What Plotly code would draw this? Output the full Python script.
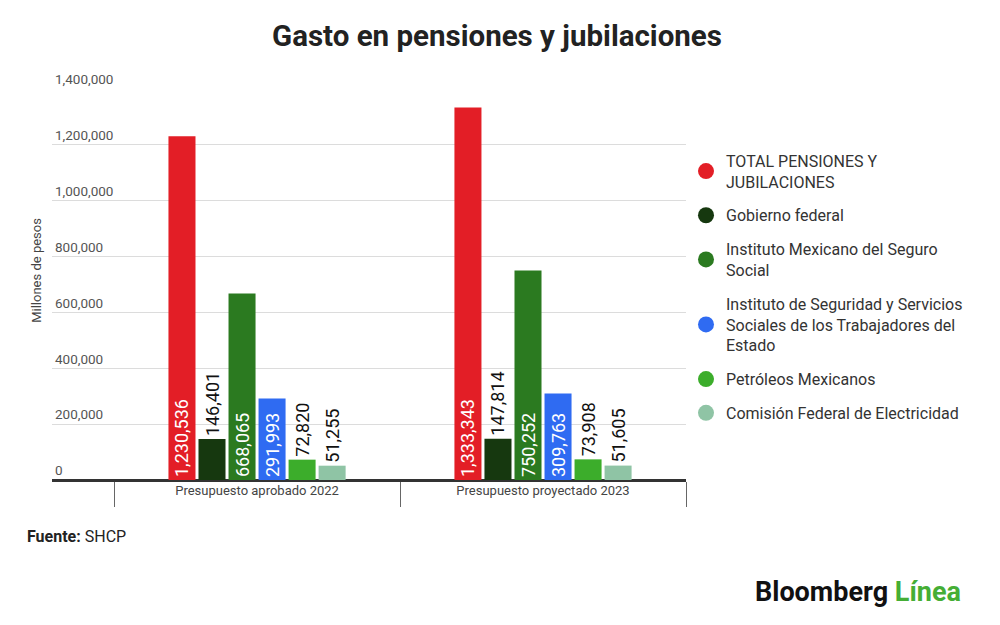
import plotly.graph_objects as go

categorias = ["Presupuesto aprobado 2022", "Presupuesto proyectado 2023"]

series = [
    "TOTAL PENSIONES Y<br>JUBILACIONES",
    "Gobierno federal",
    "Instituto Mexicano del Seguro<br>Social",
    "Instituto de Seguridad y Servicios<br>Sociales de los Trabajadores del<br>Estado",
    "Petróleos Mexicanos",
    "Comisión Federal de Electricidad",
]

total = [1230536, 1333343]
gobierno = [146401, 147814]
imss = [668065, 750252]
issste = [291993, 309763]
pemex = [72820, 73908]
cfe = [51255, 51605]

valores = [total, gobierno, imss, issste, pemex, cfe]
colores = ["#E31E26", "#16380F", "#2B7A20", "#2F6BF2", "#3CAD2B", "#8FC4A5"]
posiciones = ["inside", "outside", "inside", "inside", "outside", "outside"]

fig = go.Figure()

for nombre, vals, color, pos in zip(series, valores, colores, posiciones):
    fig.add_trace(go.Bar(
        x=categorias, y=vals, name=nombre,
        marker=dict(color=color, line=dict(width=0)),
        texttemplate="%{y:,}",
        textposition=pos,
        textangle=-90,
        insidetextanchor="start",
        constraintext="none",
        insidetextfont=dict(color="white", size=18, family="Roboto"),
        outsidetextfont=dict(color="#111", size=18, family="Roboto"),
        cliponaxis=False,
        showlegend=False,
    ))

# legend entries with round markers
for i, (nombre, color) in enumerate(zip(series, colores)):
    fig.add_trace(go.Scatter(
        x=[None], y=[None], mode="markers", name=nombre, legendgroup=f"g{i}",
        marker=dict(color=color, size=17, symbol="circle"),
    ))

# page body has an 8px margin, so the figure is 8px smaller than the window
W, H = 992, 617
fig.update_layout(
    width=W, height=H,
    margin=dict(l=44, r=314, t=81, b=145),
    paper_bgcolor="white", plot_bgcolor="white",
    font=dict(family="Roboto", color="#333"),
    barmode="group", bargap=0.37, bargroupgap=0.1,
    title=dict(text="<b>Gasto en pensiones y jubilaciones</b>",
               x=489 / W, xanchor="center", y=1 - 28 / H, yanchor="middle",
               font=dict(size=29.5, color="#222")),
    legend=dict(x=1.0, xanchor="left", y=0.86, yanchor="top",
                font=dict(size=16, color="#333"), tracegroupgap=10,
                itemclick=False),
)

fig.update_yaxes(
    range=[0, 1400000], dtick=200000, tickformat=",",
    ticklabelposition="inside top", ticklabeloverflow="allow",
    tickfont=dict(size=13.5, color="#555"),
    showgrid=True, gridcolor="#dcdcdc", gridwidth=1,
    zeroline=True, zerolinecolor="#333", zerolinewidth=2,
    showline=False,
)

fig.update_xaxes(
    range=[-0.717, 1.5],
    tickson="boundaries", ticks="outside", ticklen=25, tickcolor="#666", tickwidth=1,
    ticklabelstandoff=-3,
    tickfont=dict(size=13, color="#444"),
    showline=True, linecolor="#333", linewidth=2,
    showgrid=False,
)

fig.add_annotation(text="Millones de pesos", textangle=-90,
                   xref="paper", yref="paper", x=(37 - 52) / 634, y=0.535,
                   xanchor="center", yanchor="middle", showarrow=False,
                   font=dict(size=13, color="#444"))

fig.add_annotation(text="<b>Fuente:</b> SHCP",
                   xref="paper", yref="paper", x=(25 - 52) / 634, y=(480 - 536) / 391,
                   xanchor="left", yanchor="middle", showarrow=False,
                   font=dict(size=16, color="#222"))

fig.add_annotation(text="<b>Bloomberg <span style='color:#45AE35'>Línea</span></b>",
                   xref="paper", yref="paper", x=(963 - 52) / 634, y=(480 - 592) / 391,
                   xanchor="right", yanchor="middle", showarrow=False,
                   font=dict(size=27, color="#111"))

fig.write_html("out.html")
